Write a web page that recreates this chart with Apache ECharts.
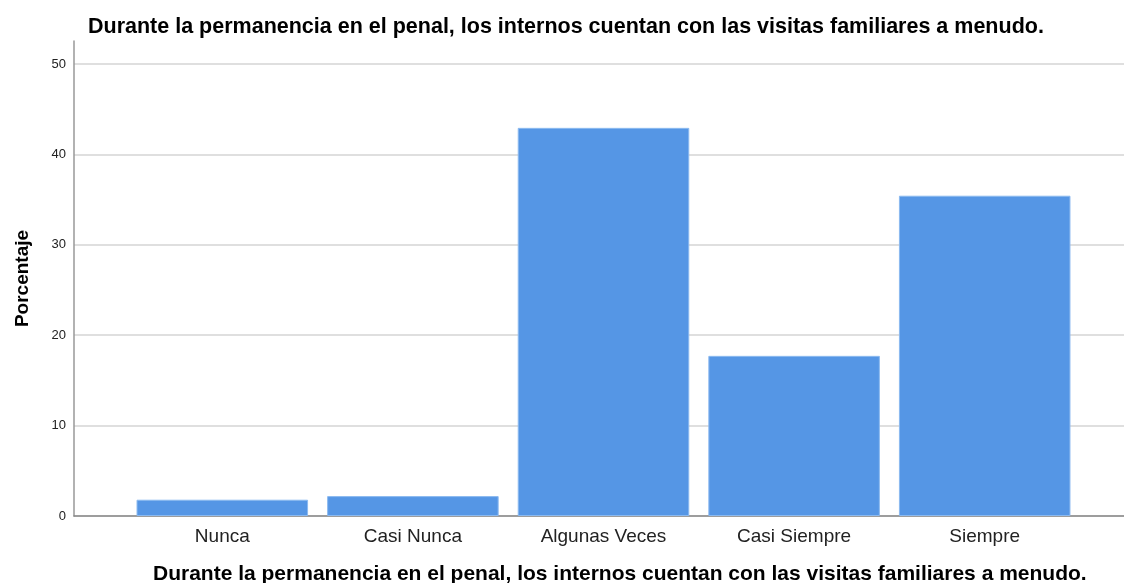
<!DOCTYPE html>
<html>
<head>
<meta charset="utf-8">
<script src="https://cdn.jsdelivr.net/npm/echarts@6/dist/echarts.min.js"></script>
<style>
  html, body { margin: 0; padding: 0; background: #fff; }
  #chart { width: 1124px; height: 583px; }
</style>
</head>
<body>
<div id="chart"></div>
<script>
const categories = ['Nunca', 'Casi Nunca', 'Algunas Veces', 'Casi Siempre', 'Siempre'];
const percentages = [1.8, 2.2, 42.9, 17.7, 35.4];
const yTicks = { min: 0, max: 50, interval: 10 };
const yAxisTop = 52.5;
const chartTitle = 'Durante la permanencia en el penal, los internos cuentan con las visitas familiares a menudo.';

let myChart = echarts.init(document.getElementById('chart'));

myChart.setOption({
    animation: false,
    title: [{
        text: chartTitle,
        left: 83,
        top: 11,
        textStyle: { fontFamily: 'Liberation Sans', fontSize: 21.5, fontWeight: 'bold', color: '#000' }
    }, {
        text: chartTitle,
        left: 148,
        top: 559,
        textStyle: { fontFamily: 'Liberation Sans', fontSize: 21, fontWeight: 'bold', color: '#000' }
    }],
    grid: [
        { left: 74, right: 0, top: 64, bottom: 67 },
        { left: 74, right: 0, top: 41, bottom: 67 },
        { left: 127, width: 953, top: 41, bottom: 67 }
    ],
    xAxis: [{
        gridIndex: 0, type: 'value', min: 0, max: 1,
        axisLine: { show: true, lineStyle: { color: '#888', width: 1.5 } },
        axisTick: { show: false }, axisLabel: { show: false }, splitLine: { show: false }
    }, {
        gridIndex: 1, type: 'value', show: false
    }, {
        gridIndex: 2, type: 'category', data: categories,
        axisLine: { show: false }, axisTick: { show: false },
        axisLabel: { margin: 11, fontFamily: 'Liberation Sans', fontSize: 19, color: '#222' }
    }],
    yAxis: [{
        gridIndex: 0, type: 'value', min: yTicks.min, max: yTicks.max, interval: yTicks.interval,
        axisLine: { show: false }, axisTick: { show: false },
        axisLabel: { margin: 8, fontFamily: 'Liberation Sans', fontSize: 13, color: '#222' },
        splitLine: { show: true, lineStyle: { color: '#d4d4d4', width: 1.5 } }
    }, {
        gridIndex: 1, type: 'value', min: 0, max: yAxisTop,
        axisLine: { show: true, lineStyle: { color: '#999', width: 1.5 } },
        axisTick: { show: false }, axisLabel: { show: false }, splitLine: { show: false },
        name: 'Porcentaje', nameLocation: 'middle', nameGap: 42,
        nameTextStyle: { fontFamily: 'Liberation Sans', fontSize: 19, fontWeight: 'bold', color: '#000' }
    }, {
        gridIndex: 2, type: 'value', min: 0, max: yAxisTop, show: false
    }],
    series: [{
        type: 'bar',
        xAxisIndex: 2,
        yAxisIndex: 2,
        data: percentages,
        barCategoryGap: '10%',
        itemStyle: { color: '#5596e5', borderColor: '#8cbaf0', borderWidth: 1 }
    }]
});
</script>
</body>
</html>
